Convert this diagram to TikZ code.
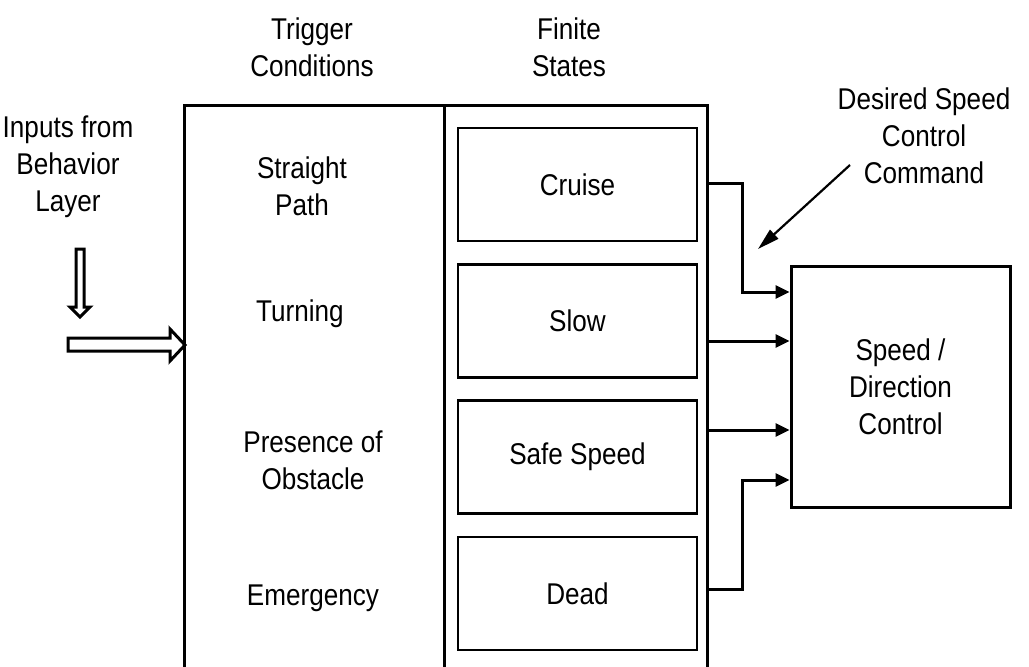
\documentclass[tikz,border=0pt]{standalone}
\usepackage{fontspec}
\setmainfont{Liberation Sans}[FakeStretch=0.87]
\usetikzlibrary{arrows.meta}
\begin{document}
\begin{tikzpicture}[x=1pt,y=-1pt,line width=3pt,
  txt/.style={font=\fontsize{30}{37}\selectfont, align=center, inner sep=0pt},
  statebox/.style={draw, line width=2.8pt, minimum width=239pt, minimum height=113pt, inner sep=0pt, font=\fontsize{30}{37}\selectfont},
  ctrlbox/.style={draw, line width=3pt, minimum width=219pt, minimum height=241pt, inner sep=0pt, align=center, font=\fontsize{30}{37}\selectfont},
  conn/.style={line width=3pt, -{Triangle[length=14pt,width=13pt]}},
  hollow/.style={line width=3pt, line join=miter, fill=white}]
\useasboundingbox (0,0) rectangle (1029,667);
\clip (0,0) rectangle (1029,667);
% headers
\node[txt] (trig) at (312,47) {Trigger\\Conditions};
\node[txt] (fin) at (569,47) {Finite\\States};
\node[txt] (inp) at (68,167) {Inputs from\\Behavior\\Layer};
\node[txt] (des) at (924,136) {Desired Speed\\Control\\Command};
% outer box
\draw (184,690) -- (184,105) -- (707,105) -- (707,690);
\draw (444,105) -- (444,690);
% trigger conditions
\node[txt] (c1) at (302,186) {Straight\\Path};
\node[txt] (c2) at (300,314) {Turning};
\node[txt] (c3) at (313,460) {Presence of\\Obstacle};
\node[txt] (c4) at (313,598) {Emergency};
% states
\node[statebox] (s1) at (577.5,184.5) {Cruise};
\node[statebox] (s2) at (577.5,321) {Slow};
\node[statebox] (s3) at (577.5,457) {Safe Speed};
\node[statebox] (s4) at (577.5,593.5) {Dead};
% control box
\node[ctrlbox] (ctrl) at (900.5,386.5) {Speed /\\Direction\\Control};
% outputs on outer box edge
\coordinate (o1) at (707,183);
\coordinate (o2) at (707,341);
\coordinate (o3) at (707,430);
\coordinate (o4) at (707,589);
\coordinate (b1) at (742,183);
\coordinate (b4) at (742,589);
\draw[conn] (o1) -- (b1) |- (ctrl.west |- 0,292);
\draw[conn] (o2) -- (ctrl.west |- o2);
\draw[conn] (o3) -- (ctrl.west |- o3);
\draw[conn] (o4) -- (b4) |- (ctrl.west |- 0,480);
% desired speed arrow
\coordinate (dsTail) at (850,165);
\coordinate (dsTip) at (758,249);
\draw[line width=2.2pt, -{Triangle[length=22pt,width=12pt]}] (dsTail) -- (dsTip);
% hollow arrows
\draw[hollow] (76,249) -- (84,249) -- (84,307) -- (90,307) -- (80,317) -- (70,307) -- (76,307) -- cycle;
\draw[hollow] (68,338) -- (170,338) -- (170,329) -- (185,345) -- (170,361) -- (170,351) -- (68,351) -- cycle;
\end{tikzpicture}
\end{document}
